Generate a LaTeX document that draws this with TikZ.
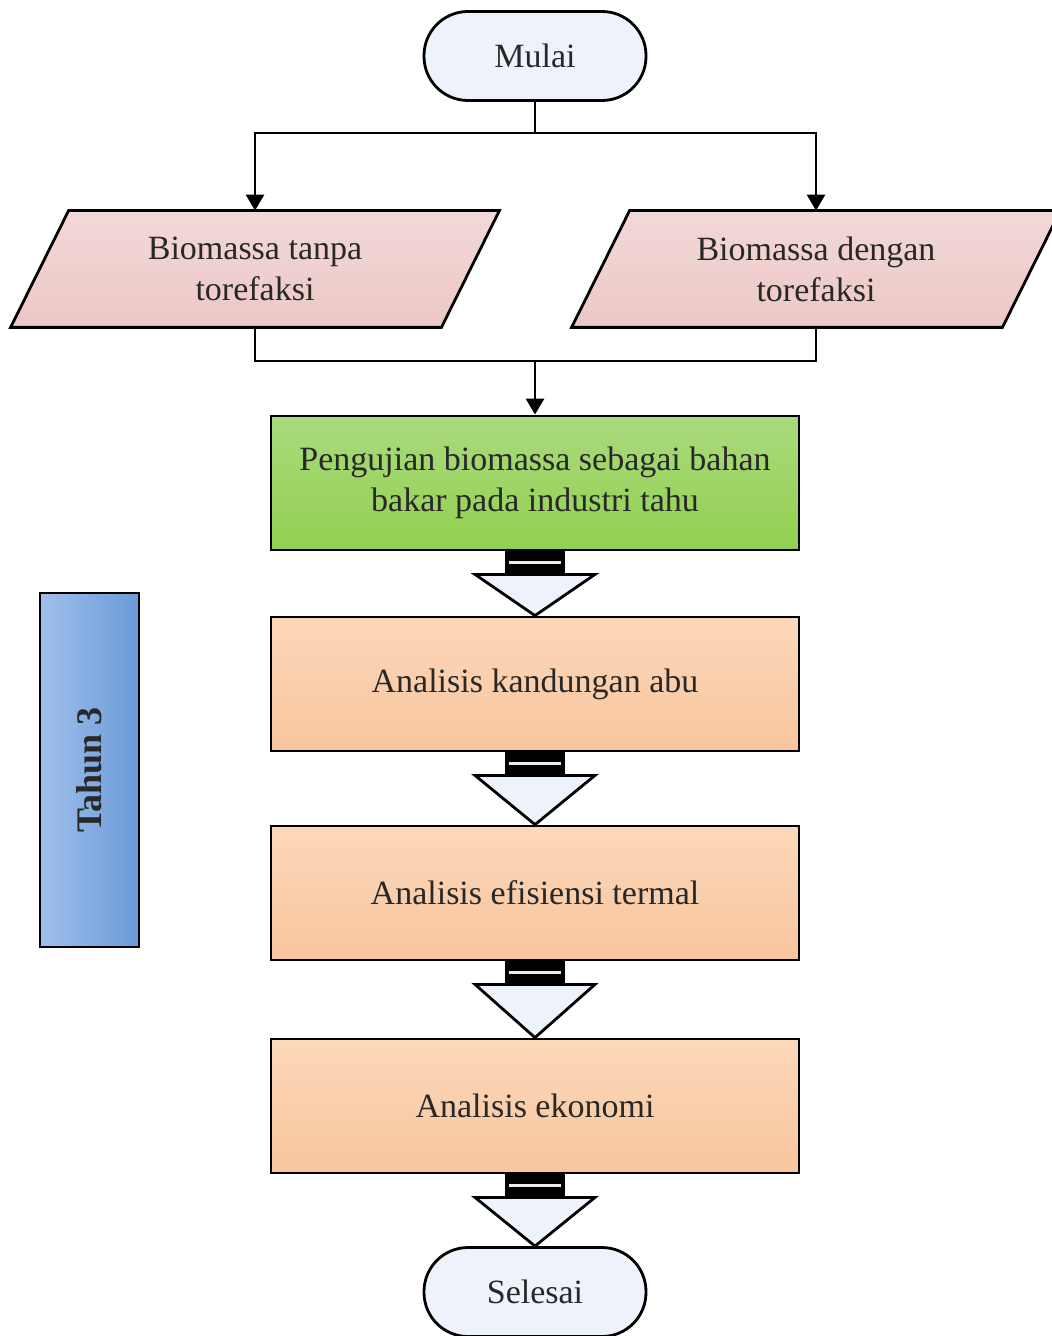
\documentclass[tikz,border=0pt]{standalone}
\usepackage{fontspec}
\setmainfont{Liberation Serif}
\usetikzlibrary{calc,arrows.meta,backgrounds}
\definecolor{termfill}{RGB}{238,242,250}
\definecolor{parapink}{RGB}{242,216,216}
\definecolor{parapinkb}{RGB}{236,200,197}
\definecolor{testgreen}{RGB}{170,218,125}
\definecolor{testgreenb}{RGB}{146,208,80}
\definecolor{anorange}{RGB}{252,216,186}
\definecolor{anorangeb}{RGB}{248,197,158}
\definecolor{yearblue}{RGB}{160,192,235}
\definecolor{yearblueb}{RGB}{106,154,216}
\definecolor{ink}{RGB}{40,40,40}

\tikzset{
  terminal/.style={draw, line width=1.4pt, fill=termfill, rounded corners=22pt,
    minimum width=111pt, minimum height=44.5pt, text=ink},
  iobox/.style={minimum width=215pt, minimum height=58pt, align=center, text=ink},
  testbox/.style={draw, line width=1.4pt, top color=testgreen, bottom color=testgreenb,
    minimum width=264pt, minimum height=67pt, align=center, text=ink},
  anbox/.style={draw, line width=1.4pt, top color=anorange, bottom color=anorangeb,
    minimum width=264pt, minimum height=67pt, align=center, text=ink},
  yearbox/.style={draw, line width=1.4pt, left color=yearblue, right color=yearblueb,
    minimum width=49.5pt, minimum height=177pt},
  link/.style={line width=1.4pt},
  flow/.style={line width=1.4pt, -{Triangle[length=8pt,width=9pt]}},
  hollow/.style={draw, line width=1.4pt, fill=termfill, line join=miter},
}

\newcommand{\blockarrow}[2]{%
  \fill[black] ($(#1.south)+(-30,0)$) rectangle ($(#1.south)+(30,23)$);
  \draw[gray!15, line width=1.5pt] ($(#1.south)+(-26,11)$) -- ($(#1.south)+(26,11)$);
  \draw[hollow] ($(#1.south)+(-60,23)$) -- ($(#1.south)+(60,23)$) -- (#2.north) -- cycle;
}

\begin{document}
\begin{tikzpicture}[x=0.5pt, y=-0.5pt, font=\fontsize{17}{20.5}\selectfont]
\useasboundingbox (0,0) rectangle (1051,1336);

% Start
\node[terminal] (mulai) at (535,56) {Mulai};

% Inputs
\node[iobox] (bio1) at (255,269) {Biomassa tanpa\\torefaksi};
\node[iobox] (bio2) at (816,269) {Biomassa dengan\\torefaksi};
\begin{scope}[on background layer]
\foreach \b in {bio1,bio2} {
  \draw[link, top color=parapink, bottom color=parapinkb]
    ($(\b.south west)+(-29,0)$) -- ($(\b.south east)+(-29,0)$)
    -- ($(\b.north east)+(29,0)$) -- ($(\b.north west)+(29,0)$) -- cycle;
}
\end{scope}

% Steps
\node[testbox] (uji) at (535,483) {Pengujian biomassa sebagai bahan\\bakar pada industri tahu};
\node[anbox] (abu) at (535,684) {Analisis kandungan abu};
\node[anbox] (termal) at (535,893) {Analisis efisiensi termal};
\node[anbox] (ekonomi) at (535,1106) {Analisis ekonomi};

% End
\node[terminal] (selesai) at (535,1292) {Selesai};

% Year label
\node[yearbox] (tahun) at (89.5,770) {};
\node[rotate=90, font=\fontsize{18}{21}\bfseries, text=ink] at (tahun.center) {Tahun 3};

% Connectors
\coordinate (split) at (535,133);
\coordinate (merge) at (535,361);
\draw[link] (mulai.south) -- (split);
\draw[flow] (split) -| (bio1.north);
\draw[flow] (split) -| (bio2.north);
\draw[link] (bio1.south) |- (merge);
\draw[link] (bio2.south) |- (merge);
\draw[flow] (merge) -- (uji.north);

% Block arrows
\blockarrow{uji}{abu}
\blockarrow{abu}{termal}
\blockarrow{termal}{ekonomi}
\blockarrow{ekonomi}{selesai}

\end{tikzpicture}
\end{document}
